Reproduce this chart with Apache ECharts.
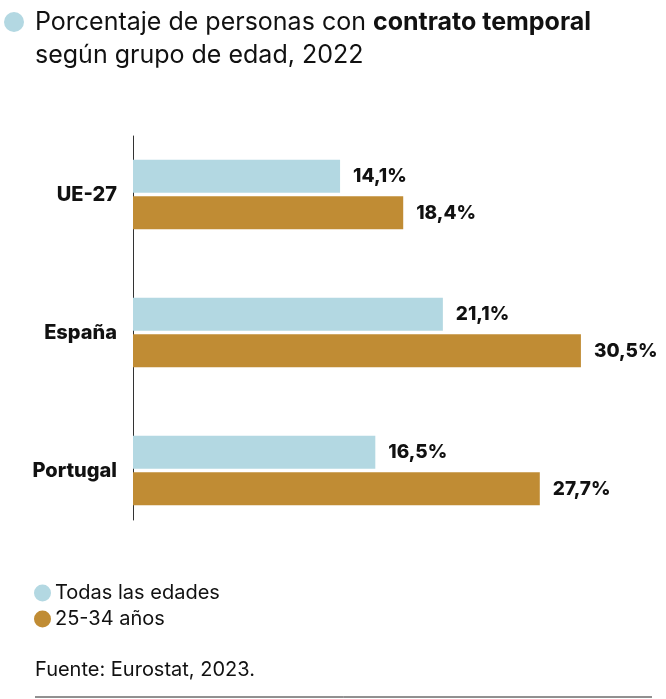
<!DOCTYPE html>
<html>
<head>
<meta charset="utf-8">
<script src="https://cdn.jsdelivr.net/npm/echarts@6/dist/echarts.min.js"></script>
<style>
html,body{margin:0;padding:0;background:#fff;}
#c{width:666px;height:699px;}
</style>
</head>
<body>
<div id="c"></div>
<script>
const categories = ['UE-27', 'España', 'Portugal'];
const seriesNames = ['Todas las edades', '25-34 años'];
const todasLasEdades = [14.1, 21.1, 16.5];
const edad25a34 = [18.4, 30.5, 27.7];
const colors = ['#b3d8e2', '#c08c34'];

const FONT = 'Inter, "Noto Sans", sans-serif';
const chart = echarts.init(document.getElementById('c'), null, {renderer: 'canvas'});

function fmt(p) { return p.value.toFixed(1).replace('.', ',') + '%'; }

const labelStyle = {
  show: true, position: 'right', distance: 13,
  formatter: fmt, color: '#111', fontFamily: FONT, fontWeight: 800, fontSize: 19
};

chart.setOption({
  animation: false,
  backgroundColor: '#fff',
  title: {
    left: 35, top: 6, padding: 0,
    text: '{a|Porcentaje de personas con }{b|contrato temporal}\n{a|según grupo de edad, 2022}',
    textStyle: {
      fontWeight: 'normal',
      rich: {
        a: {fontFamily: FONT, fontSize: 25, color: '#111', fontWeight: 'normal', lineHeight: 33},
        b: {fontFamily: FONT, fontSize: 25, color: '#111', fontWeight: 'bold', lineHeight: 33}
      }
    }
  },
  graphic: [
    {type: 'circle', shape: {cx: 14, cy: 22, r: 10}, style: {fill: '#b3d8e2'}},
    {type: 'line', shape: {x1: 35, y1: 697, x2: 652, y2: 697}, style: {stroke: '#222', lineWidth: 1}},
    {type: 'text', left: 35, top: 660, style: {text: 'Fuente: Eurostat, 2023.', font: '20px ' + FONT, fill: '#111'}}
  ],
  legend: {
    orient: 'vertical', left: 29, top: 578,
    itemGap: 6, itemWidth: 17, itemHeight: 17, icon: 'circle',
    textStyle: {fontFamily: FONT, fontSize: 20, color: '#111', padding: [0, 0, 0, -1]},
    data: seriesNames
  },
  grid: [
    {left: 133, right: 19, top: 125.5, height: 414, containLabel: false},
    {left: 133, width: 1, top: 136, height: 384, containLabel: false}
  ],
  xAxis: [
    {type: 'value', min: 0, max: 35, show: false, gridIndex: 0},
    {type: 'value', min: 0, max: 1, show: false, gridIndex: 1}
  ],
  yAxis: [
    {
      type: 'category', data: categories, inverse: true, gridIndex: 0,
      axisLine: {show: false}, axisTick: {show: false},
      axisLabel: {margin: 16, color: '#111', fontFamily: FONT, fontWeight: 800, fontSize: 20}
    },
    {
      type: 'value', gridIndex: 1, min: 0, max: 1,
      axisLine: {show: true, lineStyle: {color: '#333', width: 1}},
      axisTick: {show: false}, axisLabel: {show: false}, splitLine: {show: false}
    }
  ],
  series: [
    {
      name: seriesNames[0], type: 'bar', data: todasLasEdades,
      xAxisIndex: 0, yAxisIndex: 0,
      barWidth: 33, barGap: '11%',
      itemStyle: {color: colors[0]}, label: labelStyle
    },
    {
      name: seriesNames[1], type: 'bar', data: edad25a34,
      xAxisIndex: 0, yAxisIndex: 0,
      barWidth: 33, barGap: '11%',
      itemStyle: {color: colors[1]}, label: labelStyle
    }
  ]
});
</script>
</body>
</html>
